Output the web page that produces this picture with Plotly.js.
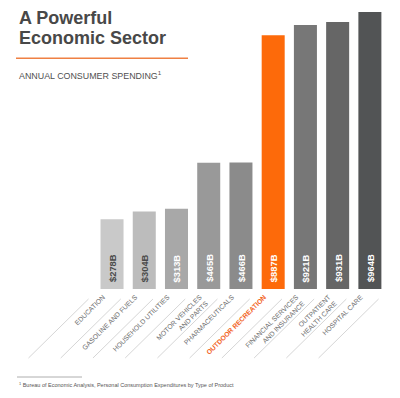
<!DOCTYPE html>
<html><head><meta charset="utf-8">
<script src="https://cdn.plot.ly/plotly-3.0.1.min.js"></script>
<style>html,body{margin:0;padding:0;background:#fff}</style>
</head><body><div id="chart" style="width:400px;height:398px"></div>
<script>
const categories = ['Education','Gasoline and fuels','Household utilities','Motor vehicles and parts','Pharmaceuticals','Outdoor recreation','Financial services and insurance','Outpatient health care','Hospital care'];
const tickLabels = ['EDUCATION','GASOLINE AND FUELS','HOUSEHOLD UTILITIES','MOTOR VEHICLES<br>AND PARTS','PHARMACEUTICALS','OUTDOOR RECREATION','FINANCIAL SERVICES<br>AND INSURANCE','OUTPATIENT<br>HEALTH CARE','HOSPITAL CARE'];
const spending = [278, 304, 313, 465, 466, 887, 921, 931, 964];
const barColors = ['#c9c9c9','#bcbcbc','#a8a8a8','#999999','#8b8b8b','#fd6a0a','#777777','#666666','#525455'];
const valueTextColors = ['#4a4a4a','#4a4a4a','#ffffff','#ffffff','#ffffff','#ffffff','#ffffff','#ffffff','#ffffff'];
const highlightIndex = 5;

const orange = '#f2641e';
const W = 400, H = 398;
const M = {l: 25, r: 14, t: 9, b: 109};

const ticktext = tickLabels.map((t, i) => i === highlightIndex
  ? '<span style="color:' + orange + '"><b>' + t + '</b></span>' : t);

const annotations = [];
annotations.push({xref:'paper', yref:'paper', x:0, y:1, xanchor:'left', yanchor:'middle',
  xshift: 17 - M.l, yshift: M.t - 18, showarrow:false, text:'<b>A Powerful</b>',
  font:{family:'Liberation Sans, Arial, sans-serif', size:18, color:'#484848'}});
annotations.push({xref:'paper', yref:'paper', x:0, y:1, xanchor:'left', yanchor:'middle',
  xshift: 17 - M.l, yshift: M.t - 38, showarrow:false, text:'<b>Economic Sector</b>',
  font:{family:'Liberation Sans, Arial, sans-serif', size:18, color:'#484848'}});
annotations.push({xref:'paper', yref:'paper', x:0, y:1, xanchor:'left', yanchor:'middle',
  xshift: 17 - M.l, yshift: M.t - 74.5, showarrow:false, text:'ANNUAL CONSUMER SPENDING<sup>1</sup>',
  font:{family:'Liberation Sans, Arial, sans-serif', size:8.9, color:'#505050'}});
annotations.push({xref:'paper', yref:'paper', x:0, y:0, xanchor:'left', yanchor:'middle',
  xshift: 17 - M.l, yshift: -(385 - (H - M.b)), showarrow:false,
  text:'<sup>1</sup> Bureau of Economic Analysis, Personal Consumption Expenditures by Type of Product',
  font:{family:'Liberation Sans, Arial, sans-serif', size:5.5, color:'#555555'}});
categories.forEach((c, i) => {
  annotations.push({xref:'x', yref:'paper', x:c, y:0, xanchor:'center', yanchor:'bottom',
    yshift:5, textangle:-90, showarrow:false, text:'<b>$' + spending[i] + 'B</b>',
    font:{family:'Liberation Sans, Arial, sans-serif', size:9.4, color:valueTextColors[i]}});
});

const shapes = [];
shapes.push({type:'line', xref:'paper', yref:'paper', xsizemode:'pixel', ysizemode:'pixel',
  xanchor:0, yanchor:1, x0:16 - M.l, x1:188 - M.l, y0:M.t - 58.3, y1:M.t - 58.3,
  line:{color:'#ef8043', width:1.6}});
shapes.push({type:'line', xref:'paper', yref:'paper', xsizemode:'pixel', ysizemode:'pixel',
  xanchor:0, yanchor:0, x0:17 - M.l, x1:82 - M.l, y0:(H - M.b) - 377, y1:(H - M.b) - 377,
  line:{color:'#9a9a9a', width:0.8}});
for (let k = 0; k <= categories.length; k++) {
  shapes.push({type:'line', xref:'x', yref:'paper', xsizemode:'pixel', ysizemode:'pixel',
    xanchor:k - 0.73, yanchor:0, x0:-60, x1:0, y0:-69, y1:-10,
    line:{color:'#d6d6d6', width:1}});
}

const trace = {type:'bar', x:categories, y:spending, marker:{color:barColors, line:{width:0}},
  hoverinfo:'none'};

const layout = {
  width:W, height:H, margin:M, paper_bgcolor:'#ffffff', plot_bgcolor:'#ffffff',
  showlegend:false, bargap:0.286,
  font:{family:'Liberation Sans, Arial, sans-serif'},
  xaxis:{type:'category', range:[-2.7, 8.5], tickvals:categories, ticktext:ticktext,
    tickangle:-45, tickfont:{size:6.8, color:'#6e6e6e'}, showgrid:false, zeroline:false,
    showline:false, ticks:'', ticklabelshift:-9, ticklabelstandoff:2, fixedrange:true},
  yaxis:{range:[47.6, 973.8], visible:false, fixedrange:true},
  annotations:annotations, shapes:shapes
};
Plotly.newPlot('chart', [trace], layout, {staticPlot:true, displayModeBar:false});
</script></body></html>
